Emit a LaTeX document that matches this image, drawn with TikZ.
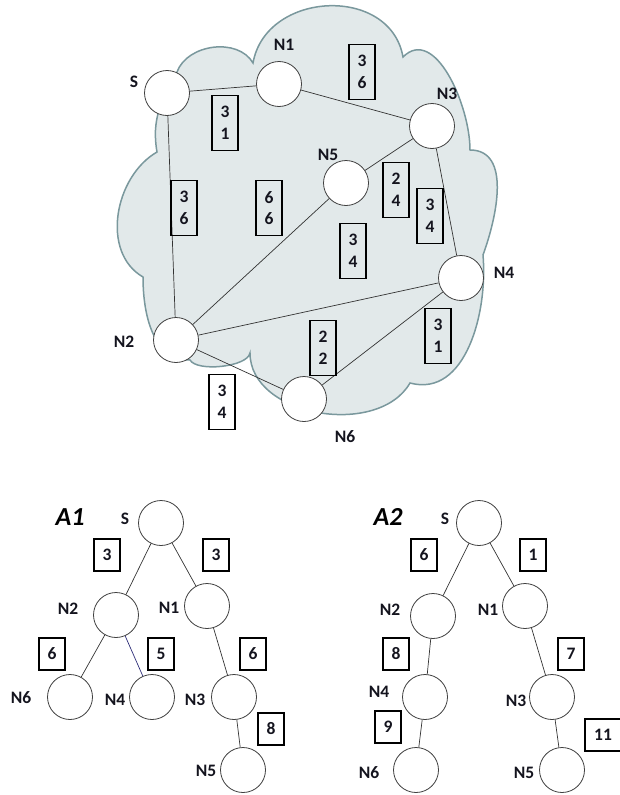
\documentclass[tikz,border=0pt]{standalone}
\usepackage{fontspec}
\setmainfont{Carlito}
\usetikzlibrary{positioning}
\definecolor{cloudfill}{RGB}{226, 233, 234}
\definecolor{cloudline}{RGB}{122, 152, 157}
\definecolor{ink}{RGB}{20, 20, 30}
\definecolor{navyedge}{RGB}{45, 45, 120}

\begin{document}
\begin{tikzpicture}[x=1pt, y=1pt,
    vertex/.style={circle, draw=black!75, fill=white, line width=0.8pt,
                   minimum size=45pt, inner sep=0pt},
    lbl/.style={text=ink, font=\fontsize{17.5}{19}\selectfont\bfseries, inner sep=0pt},
    wbox/.style={rectangle, draw, line width=1.1pt, text=ink, minimum width=26pt,
                 minimum height=32pt, inner sep=0pt,
                 font=\fontsize{17.5}{21.5}\selectfont\bfseries},
    wpair/.style={wbox, minimum height=55pt, align=center},
    link/.style={draw=black!80, line width=0.7pt},
    title/.style={text=black, font=\fontsize{26}{28}\selectfont\bfseries\itshape, inner sep=0pt}]
    \useasboundingbox (0,0) rectangle (619,-795);

    % Cloud
    \draw[cloudline, fill=cloudfill, line width=1.5pt]
        (177,-72) to[out=70, in=120] (253,-63)
        to[out=80, in=100, looseness=1.25] (403,-57)
        to[out=45, in=90] (470,-150)
        to[out=0, in=70] (483,-255)
        to[out=-85, in=-15] (410,-383)
        to[out=-120, in=-90] (250,-353)
        to[out=-100, in=-60, looseness=0.6] (190,-360)
        to[out=180, in=-90] (143,-277)
        to[out=150, in=210] (157,-152)
        to[out=100, in=240] (177,-72) -- cycle;

    % Network
    \node[vertex] (s) at (167,-93) {};
    \node[vertex] (n1) at (279,-84) {};
    \node[vertex] (n3) at (432,-126) {};
    \node[vertex] (n5) at (346,-183) {};
    \node[vertex] (n4) at (461,-278) {};
    \node[vertex] (n2) at (176,-340) {};
    \node[vertex] (n6) at (304,-399) {};

    \node[lbl] (s-l) at (134,-82) {S};
    \node[lbl] (n1-l) at (284,-45) {N1};
    \node[lbl] (n3-l) at (447,-94) {N3};
    \node[lbl] (n5-l) at (328,-155) {N5};
    \node[lbl] (n4-l) at (504,-273) {N4};
    \node[lbl] (n2-l) at (124,-342) {N2};
    \node[lbl] (n6-l) at (345,-437) {N6};

    \draw[link] (s) -- (n1);
    \draw[link] (n1) -- (n3);
    \draw[link] (n3) -- (n5);
    \draw[link] (n3) -- (n4);
    \draw[link] (s) -- (n2);
    \draw[link] (n5) -- (n2);
    \draw[link] (n2) -- (n4);
    \draw[link] (n2) -- (n6);
    \draw[link] (n6) -- (n4);

    \node[wpair] (w-sn1) at (225,-123) {3\\1};
    \node[wpair] (w-n1n3) at (362,-72) {3\\6};
    \node[wpair] (w-sn2) at (184,-208) {3\\6};
    \node[wpair] (w-n2n5) at (269,-208) {6\\6};
    \node[wpair] (w-n3n5) at (396,-190) {2\\4};
    \node[wpair] (w-n3n4) at (430,-216) {3\\4};
    \node[wpair] (w-n2n4) at (353,-251) {3\\4};
    \node[wpair] (w-n4n6) at (438,-336) {3\\1};
    \node[wpair] (w-mid) at (323,-348) {2\\2};
    \node[wpair] (w-n2n6) at (222,-402) {3\\4};

    % Tree A1
    \node[title] (a1) at (70,-517) {A1};
    \node[vertex] (a1s) at (161,-523) {};
    \node[vertex] (a1n2) at (116,-615) {};
    \node[vertex] (a1n1) at (207,-606) {};
    \node[vertex] (a1n6) at (70,-697) {};
    \node[vertex] (a1n4) at (152,-697) {};
    \node[vertex] (a1n3) at (234,-697) {};
    \node[vertex] (a1n5) at (243,-770) {};

    \node[lbl] (a1s-l) at (125,-519) {S};
    \node[lbl] (a1n2-l) at (68,-609) {N2};
    \node[lbl] (a1n1-l) at (169,-608) {N1};
    \node[lbl] (a1n6-l) at (21,-698) {N6};
    \node[lbl] (a1n4-l) at (115,-700) {N4};
    \node[lbl] (a1n3-l) at (195,-700) {N3};
    \node[lbl] (a1n5-l) at (206,-771) {N5};

    \draw[link] (a1s) -- (a1n2);
    \draw[link] (a1s) -- (a1n1);
    \draw[link] (a1n2) -- (a1n6);
    \draw[link, draw=navyedge] (a1n2) -- (a1n4);
    \draw[link] (a1n1) -- (a1n3);
    \draw[link] (a1n3) -- (a1n5);

    \node[wbox] (a1w1) at (107,-555) {3};
    \node[wbox] (a1w2) at (216,-555) {3};
    \node[wbox] (a1w3) at (52,-654) {6};
    \node[wbox] (a1w4) at (161,-654) {5};
    \node[wbox] (a1w5) at (253,-654) {6};
    \node[wbox] (a1w6) at (271,-729) {8};

    % Tree A2
    \node[title] (a2) at (388,-517) {A2};
    \node[vertex] (a2s) at (479,-523) {};
    \node[vertex] (a2n2) at (433,-616) {};
    \node[vertex] (a2n1) at (525,-606) {};
    \node[vertex] (a2n4) at (425,-697) {};
    \node[vertex] (a2n3) at (552,-697) {};
    \node[vertex] (a2n6) at (416,-770) {};
    \node[vertex] (a2n5) at (562,-770) {};

    \node[lbl] (a2s-l) at (445,-519) {S};
    \node[lbl] (a2n2-l) at (390,-610) {N2};
    \node[lbl] (a2n1-l) at (488,-610) {N1};
    \node[lbl] (a2n4-l) at (379,-692) {N4};
    \node[lbl] (a2n3-l) at (516,-701) {N3};
    \node[lbl] (a2n6-l) at (369,-773) {N6};
    \node[lbl] (a2n5-l) at (524,-773) {N5};

    \draw[link] (a2s) -- (a2n2);
    \draw[link] (a2s) -- (a2n1);
    \draw[link] (a2n2) -- (a2n4);
    \draw[link] (a2n4) -- (a2n6);
    \draw[link] (a2n1) -- (a2n3);
    \draw[link] (a2n3) -- (a2n5);

    \node[wbox] (a2w1) at (424,-555) {6};
    \node[wbox] (a2w2) at (533,-555) {1};
    \node[wbox] (a2w3) at (396,-654) {8};
    \node[wbox] (a2w4) at (571,-654) {7};
    \node[wbox] (a2w5) at (388,-727) {9};
    \node[wbox, minimum width=36pt] (a2w6) at (603,-735) {11};
\end{tikzpicture}
\end{document}
